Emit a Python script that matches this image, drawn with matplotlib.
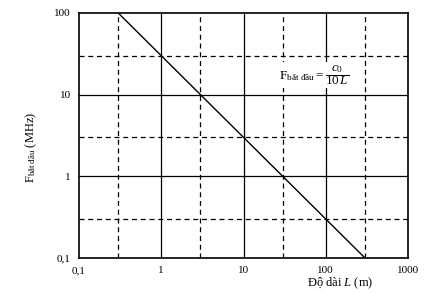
import matplotlib
matplotlib.use("Agg")
import matplotlib.pyplot as plt
import numpy as np

plt.rcParams['font.family'] = ['Liberation Serif', 'DejaVu Serif']
plt.rcParams['mathtext.fontset'] = 'custom'
plt.rcParams['mathtext.rm'] = 'Liberation Serif'
plt.rcParams['mathtext.it'] = 'Liberation Serif:italic'

# data
length_m = [0.3, 300]
freq_mhz = [100, 0.1]
x_major = [0.1, 1, 10, 100, 1000]
x_major_labels = ["0,1", "1", "10", "100", "1000"]
x_minor = [0.3, 3, 30, 300]
y_major = [0.1, 1, 10, 100]
y_major_labels = ["0,1", "1", "10", "100"]
y_minor = [0.3, 3, 30]

fig = plt.figure(figsize=(4.32, 2.93), dpi=100)
ax = fig.add_axes([79 / 432, 1 - 258 / 293, (408 - 79) / 432, (258 - 13) / 293])
ax.set_xscale('log')
ax.set_yscale('log')
ax.set_xlim(0.1, 1000)
ax.set_ylim(0.1, 100)

for x in x_major[1:-1]:
    ax.axvline(x, color='black', lw=0.9)
for y in y_major[1:-1]:
    ax.axhline(y, color='black', lw=0.9)
for x in x_minor:
    ax.axvline(x, color='black', lw=0.9, ls=(0, (4, 3)))
for y in y_minor:
    ax.axhline(y, color='black', lw=0.9, ls=(0, (4, 3)))

ax.plot(length_m, freq_mhz, color='black', lw=1.0)

ax.set_xticks(x_major)
ax.set_xticklabels(x_major_labels)
ax.set_yticks(y_major)
ax.set_yticklabels(y_major_labels)
ax.minorticks_off()
ax.tick_params(length=0, labelsize=8, pad=6)
for s in ax.spines.values():
    s.set_linewidth(1.2)

ax.set_xlabel(r'Độ dài $L$ (m)', fontsize=9)
ax.xaxis.set_label_coords((340 - 79) / 329, -(283 - 258) / 245, transform=ax.transAxes)
ax.xaxis.label.set_va('center')
ax.set_ylabel(r'F$_{\mathrm{bắt\ đầu}}$ (MHz)', fontsize=9)
ax.yaxis.set_label_coords(-(79 - 31) / 329, 0.45)
ax.yaxis.label.set_va('center')

ax.text(27, 10**1.24, r'F$_{\mathrm{bắt\ đầu}}=\dfrac{c_0}{10\,L}$',
        fontsize=9.5, ha='left', va='center',
        bbox=dict(facecolor='white', edgecolor='none', pad=1))

fig.savefig('out.png', dpi=100)
